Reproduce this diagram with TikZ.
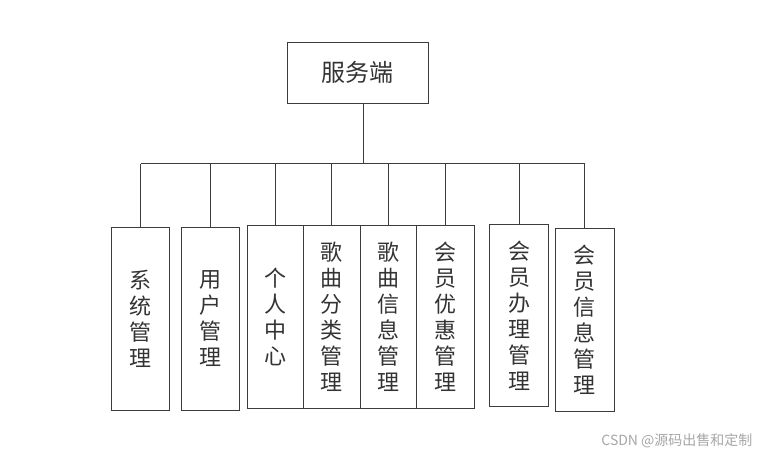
\documentclass[tikz,border=0pt]{standalone}
\usepackage{fontspec}
\newfontfamily\cjk{Noto Sans CJK SC}
\usetikzlibrary{
  positioning, % for relative positioning
}
\definecolor{linegray}{HTML}{3C3C3C}
\definecolor{textgray}{HTML}{333333}
\tikzset{
  module/.style={ % style for each module box
    rectangle,draw=linegray,line width=1pt, % drawn as a thin rectangle
    inner sep=0pt, % no padding, the size is fixed below
    minimum width=58pt, % make each module the same width
    minimum height=183pt, % and the same height
    align=center, % one character per line
    text=textgray,
    font=\cjk\fontsize{22}{26}\selectfont,
  },
  root/.style={ % style for the server box
    module,
    minimum width=141pt,
    minimum height=61pt,
    font=\cjk\fontsize{24}{26}\selectfont,
  },
  conn/.style={ % style for the connections
    draw=linegray,line width=1pt,
  },
}
\begin{document}
\begin{tikzpicture}[x=1pt,y=-1pt]
	\useasboundingbox (0,0) rectangle (762,456);
	
	\node[root] (srv) at (357.5,72.5) {服务端};
	
	\node[module] (sys) at (140.5,318.5) {系\\统\\管\\理};
	\node[module] (usr) at (210.5,318.5) {用\\户\\管\\理};
	\node[module,minimum width=56pt] (me) at (275,316.5) {个\\人\\中\\心};
	\node[module,minimum width=57pt] (cat) at (331.5,316.5) {歌\\曲\\分\\类\\管\\理};
	\node[module,minimum width=56pt] (song) at (388,316.5) {歌\\曲\\信\\息\\管\\理};
	\node[module] (disc) at (445,316.5) {会\\员\\优\\惠\\管\\理};
	\node[module,minimum width=59pt,minimum height=182pt] (join) at (519,315.5) {会\\员\\办\\理\\管\\理};
	\node[module,minimum width=59pt] (vip) at (584.5,319.5) {会\\员\\信\\息\\管\\理};
	
	% bus line between the server and the modules
	\coordinate (bus) at (363,163.5);
	\draw[conn] (srv.south -| bus) -- (bus);
	\draw[conn] (sys.north |- bus) -- (vip.north |- bus);
	\foreach \m in {sys,usr,me,cat,song,disc,join,vip}
		\draw[conn] (\m.north) -- (\m.north |- bus);
	
	\node[anchor=east,text=gray!70,font=\cjk\fontsize{14}{16}\selectfont] (mark) at (756,441) {CSDN @源码出售和定制};
\end{tikzpicture}
\end{document}
